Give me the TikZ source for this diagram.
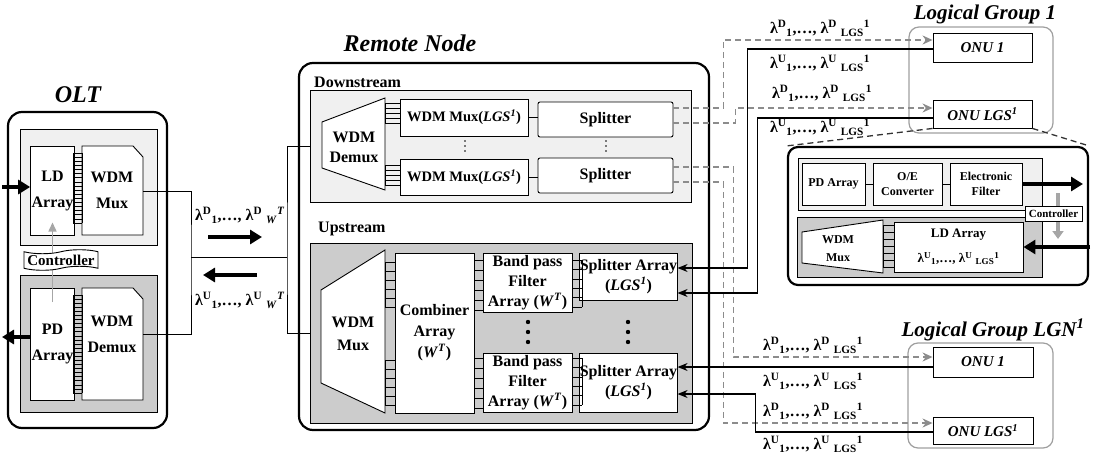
\documentclass[tikz,border=0pt]{standalone}
\usepackage{fontspec}
\setmainfont{Liberation Serif}
\usetikzlibrary{arrows.meta,shapes.symbols}
\definecolor{lightbox}{gray}{0.94}
\definecolor{darkbox}{gray}{0.80}
\definecolor{dashgray}{gray}{0.55}
\newcommand{\bfs}[2]{\fontsize{#1}{#2}\selectfont\bfseries}
\newcommand{\lamlgs}[1]{λ\textsuperscript{#1}\textsubscript{1},…, λ\textsuperscript{#1} \textsubscript{LGS}\textsuperscript{1}}
\newcommand{\lamwt}[1]{λ\textsuperscript{#1}\textsubscript{1},…, λ\textsuperscript{#1} \textsubscript{\textit{W}}\textsuperscript{\textit{T}}}
\newcommand{\ladder}[5]{%
  \draw[rung] (#1,#3) -- (#1,#4) (#2,#3) -- (#2,#4);
  \foreach \k in {0,...,#5}{\draw[rung] (#1,{#3+(#4-#3)*\k/#5}) -- (#2,{#3+(#4-#3)*\k/#5});}}
\tikzset{
  housing/.style={draw,line width=2.2pt,rounded corners=14pt,inner sep=0pt},
  panelL/.style={draw,fill=lightbox,line width=0.9pt,inner sep=0pt},
  panelD/.style={draw,fill=darkbox,line width=0.9pt,inner sep=0pt},
  group/.style={draw=gray!75,line width=1.2pt,rounded corners=10pt,inner sep=0pt},
  box/.style={draw,fill=white,line width=0.9pt,inner sep=1pt,align=center,font=\bfs{16}{20}},
  smallbox/.style={box,font=\bfs{12}{15}},
  onubox/.style={box,font=\bfs{15}{18}\itshape},
  lbl/.style={align=center,inner sep=0pt,font=\bfs{16}{20}},
  title/.style={inner sep=0pt,font=\bfs{24}{26}\itshape},
  grouptitle/.style={inner sep=0pt,font=\bfs{21}{24}\itshape},
  lam/.style={inner sep=0pt,font=\bfs{16}{18}},
  trap/.style={draw,fill=white,line width=0.9pt},
  rung/.style={line width=0.6pt},
  fiber/.style={line width=1pt},
  fat/.style={line width=4pt,-{Triangle[length=12pt,width=14pt]}},
  dnline/.style={draw=dashgray,dash pattern=on 6pt off 4pt,line width=1.3pt,-{Stealth[length=10pt,width=9pt,fill=dashgray]}},
  upline/.style={line width=1.3pt,{Stealth[length=10pt,width=8pt]}-},
  zoomline/.style={draw=gray!40!black,dash pattern=on 6pt off 4pt,line width=1.3pt},
  ctrlarrow/.style={draw=gray!70,line width=1.5pt,-{Triangle[length=9pt,width=8pt]}},
  ctrlfat/.style={draw=gray!70,line width=4pt,-{Triangle[length=8pt,width=11pt]}}
}
\begin{document}
\begin{tikzpicture}[x=1pt,y=-1pt]
  \useasboundingbox (0,0) rectangle (1093,455);

  % OLT
  \node[title] (olttitle) at (78,95) {OLT};
  \node[housing,minimum width=159pt,minimum height=316pt] (olt) at (87.5,270) {};
  \node[panelL,minimum width=137pt,minimum height=116pt] (oltdn) at (88.5,187) {};
  \node[panelD,minimum width=137pt,minimum height=137pt] (oltup) at (88.5,343.5) {};
  \draw[trap] (82,146) -- (133,146) -- (143,157) -- (143,235) -- (82,235) -- cycle;
  \draw[trap] (82,288) -- (133,288) -- (143,299) -- (143,400) -- (82,400) -- cycle;
  \node[lbl] (oltmux) at (112,190) {WDM\\[6pt]Mux};
  \node[lbl] (oltdmx) at (112,334) {WDM\\[6pt]Demux};
  \node[box,minimum width=41pt,minimum height=89pt] (lda) at (52.5,190.5) {LD\\[6pt]Array};
  \node[box,minimum width=41pt,minimum height=112pt] (pda) at (52.5,344) {PD\\[6pt]Array};
  \ladder{73}{82}{153}{223}{17}
  \ladder{73}{82}{295}{393}{24}
  \draw[ctrlarrow] ([yshift=42pt]pda.center) -- ([yshift=-32pt]lda.center);
  \node[tape,draw,fill=white,line width=0.9pt,tape bend height=4pt,minimum width=74pt,minimum height=16pt,inner sep=1pt,font=\bfs{15}{18}] (oltctrl) at (61,260) {Controller};
  \draw[fat] (2,187) -- ([yshift=3.5pt]lda.west);
  \draw[fat] ([yshift=7pt]pda.west) -- (2,337);
  \coordinate (oltmuxout) at (143,191);
  \coordinate (oltdmxout) at (143,334);

  % trunk fibre
  \coordinate (tl) at (191,257);
  \coordinate (tr) at (287,257);
  \node[lam] (trunkdn) at (240,215) {\lamwt{D}};
  \node[lam] (trunkup) at (240,300) {\lamwt{U}};
  \draw[fat] (208,237) -- (262,237);
  \draw[fat] (257,275) -- (203,275);

  % Remote Node
  \node[title] (rntitle) at (410,43) {Remote Node};
  \node[housing,minimum width=410pt,minimum height=367pt] (rn) at (504,246.5) {};
  \node[lbl,anchor=west] (dnlbl) at (314,82) {Downstream};
  \node[panelL,minimum width=381pt,minimum height=112pt] (dnpanel) at (500.5,146) {};
  \draw[trap] (322,122) -- (385,98) -- (385,190) -- (322,168) -- cycle;
  \node[lbl] (rndmx) at (354,147) {WDM\\Demux};
  \ladder{385}{400}{103}{123}{4}
  \ladder{385}{400}{165}{185}{4}
  \node[box,minimum width=128pt,minimum height=37pt,inner sep=0pt,font=\bfs{14.5}{18}] (lgmux1) at (464,117.5) {WDM Mux(\textit{LGS}\textsuperscript{\textit{1}})};
  \node[box,minimum width=128pt,minimum height=36pt,inner sep=0pt,font=\bfs{14.5}{18}] (lgmux2) at (464,177) {WDM Mux(\textit{LGS}\textsuperscript{\textit{1}})};
  \node[box,rounded corners=2pt,minimum width=135pt,minimum height=35pt] (spl1) at (605.5,119.5) {Splitter};
  \node[box,rounded corners=2pt,minimum width=135pt,minimum height=35pt] (spl2) at (605.5,175.5) {Splitter};
  \draw[fiber] (lgmux1.east) -- (lgmux1.east -| spl1.west);
  \draw[fiber] (lgmux2.east) -- (lgmux2.east -| spl2.west);
  \foreach \yy in {141,146,151} {\fill (465,\yy) circle (0.9pt); \fill (606,\yy) circle (0.9pt);}

  \node[lbl,anchor=west] (uplbl) at (318,229) {Upstream};
  \node[panelD,minimum width=382pt,minimum height=180pt] (uppanel) at (501,333) {};
  \draw[trap] (321,290) -- (385,250) -- (385,413) -- (321,383) -- cycle;
  \node[lbl] (rnmux) at (353,334) {WDM\\[3pt]Mux};
  \node[box,minimum width=79pt,minimum height=160pt,font=\bfs{16}{21}] (comb) at (434.5,333) {Combiner\\Array\\(\textit{W}\textsuperscript{\textit{T}})};
  \node[box,minimum width=89pt,minimum height=59pt] (bpf1) at (527.5,282.5) {Band pass\\Filter\\Array (\textit{W}\textsuperscript{\textit{T}})};
  \node[box,minimum width=89pt,minimum height=59pt] (bpf2) at (527.5,382.5) {Band pass\\Filter\\Array (\textit{W}\textsuperscript{\textit{T}})};
  \node[box,minimum width=93pt,minimum height=47pt,inner sep=0pt] (sa1) at (628.5,276.5) {Splitter Array\\(\textit{LGS}\textsuperscript{\textit{1}})};
  \node[box,minimum width=93pt,minimum height=59pt,inner sep=0pt] (sa2) at (628.5,382.5) {Splitter Array\\(\textit{LGS}\textsuperscript{\textit{1}})};
  \ladder{385}{395}{262}{307}{5}
  \ladder{385}{395}{360}{405}{5}
  \ladder{474}{483}{260}{310}{5}
  \ladder{474}{483}{358}{408}{5}
  \ladder{572}{582}{260}{307}{5}
  \ladder{572}{582}{358}{405}{5}
  \foreach \yy in {322,332,342} {\fill (528,\yy) circle (2.2pt); \fill (628,\yy) circle (2.2pt);}

  \draw[fiber] (oltmuxout) -| (tl) |- (oltdmxout);
  \draw[fiber] (tl) -- (tr);
  \draw[fiber] (dnpanel.west) -| (tr) |- (uppanel.west);

  % logical groups
  \node[grouptitle] (lg1title) at (985,14) {Logical Group 1};
  \node[group,minimum width=144pt,minimum height=106pt] (lg1) at (981,80) {};
  \node[onubox,minimum width=99pt,minimum height=29pt] (onua1) at (982.5,47.5) {ONU 1};
  \node[onubox,minimum width=99pt,minimum height=28pt] (onua2) at (982.5,114) {ONU LGS\textsuperscript{1}};
  \node[grouptitle] (lgntitle) at (993,330) {Logical Group LGN\textsuperscript{1}};
  \node[group,minimum width=145pt,minimum height=105pt] (lgn) at (980.5,395.5) {};
  \node[onubox,minimum width=100pt,minimum height=30pt] (onub1) at (983,362) {ONU 1};
  \node[onubox,minimum width=100pt,minimum height=27pt] (onub2) at (983,430.5) {ONU LGS\textsuperscript{1}};

  \draw[dnline] ([yshift=11.5pt]spl1.east) -- ++(50,0) |- ([yshift=7.5pt]onua1.west);
  \draw[dnline] ([yshift=-3.5pt]spl1.east) -- ++(62,0) |- ([yshift=6pt]onua2.west);
  \draw[dnline] ([yshift=8.5pt]spl2.east) -- ++(60,0) |- ([yshift=5pt]onub1.west);
  \draw[dnline] ([yshift=-6.5pt]spl2.east) -- ++(50,0) |- ([yshift=7.5pt]onub2.west);
  \draw[upline] ([yshift=8.5pt]sa1.east) -- ++(70,0) |- ([yshift=-1.5pt]onua1.west);
  \draw[upline] ([yshift=-16.5pt]sa1.east) -- ++(80,0) |- ([yshift=-4pt]onua2.west);
  \draw[upline] ([yshift=15.5pt]sa2.east) -- ([yshift=-5pt]onub1.west);
  \draw[upline] ([yshift=-11.5pt]sa2.east) -- ++(78,0) |- ([yshift=-1.5pt]onub2.west);

  \node[lam] (la1) at (820,28) {\lamlgs{D}};
  \node[lam] (la2) at (820,63) {\lamlgs{U}};
  \node[lam] (la3) at (822,93) {\lamlgs{D}};
  \node[lam] (la4) at (820,127) {\lamlgs{U}};
  \node[lam] (lb1) at (813,345) {\lamlgs{D}};
  \node[lam] (lb2) at (813,381) {\lamlgs{U}};
  \node[lam] (lb3) at (813,411) {\lamlgs{D}};
  \node[lam] (lb4) at (813,444) {\lamlgs{U}};

  % ONU detail
  \node[housing,rounded corners=10pt,minimum width=300pt,minimum height=138pt] (onudetail) at (938,216) {};
  \draw[zoomline] (onua2.south west) -- (onudetail.north west);
  \draw[zoomline] (onua2.south east) -- (onudetail.north east);
  \node[panelL,minimum width=244pt,minimum height=52pt] (detdn) at (920,184) {};
  \node[panelD,minimum width=245pt,minimum height=60pt] (detup) at (919.5,247) {};
  \node[smallbox,minimum width=63pt,minimum height=42pt] (pdd) at (833.5,184) {PD Array};
  \node[smallbox,minimum width=69pt,minimum height=42pt] (oe) at (907.5,184) {O/E\\Converter};
  \node[smallbox,minimum width=72pt,minimum height=42pt] (ef) at (986,184) {Electronic\\Filter};
  \draw[fiber] (pdd) -- (oe);
  \draw[fiber] (oe) -- (ef);
  \draw[trap] (802,232) -- (883,220) -- (883,273) -- (802,263) -- cycle;
  \node[lbl,font=\bfs{12}{18}] (detmux) at (838,249) {WDM\\Mux};
  \ladder{883}{894}{225}{267}{6}
  \node[smallbox,minimum width=129pt,minimum height=50pt,font=\bfs{13}{16}] (ldd) at (958.5,247) {LD Array\\[9pt]\lamlgs{U}};
  \draw[fat] (ef.east) -- (1083,184);
  \draw[fat] (1090,247) -- (ldd.east);
  \draw[ctrlfat] (1058,193) -- (1058,239);
  \node[draw,fill=white,line width=0.9pt,minimum width=57pt,minimum height=15pt,inner sep=0pt,font=\bfs{11}{13}] (dctrl) at (1053.5,213.5) {Controller};
\end{tikzpicture}
\end{document}
